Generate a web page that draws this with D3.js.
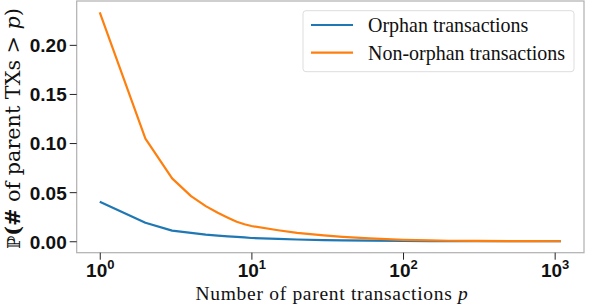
<!DOCTYPE html>
<html><head><meta charset="utf-8">
<script src="https://cdn.jsdelivr.net/npm/d3@7"></script>
<style>
body{margin:0;background:#fff;}
svg{display:block;}
</style></head>
<body><svg id="c" width="598" height="305"></svg>
<script>
const pValues = [1,2,3,4,5,6,7,8,9,10,15,20,30,40,60,100,150,200,300,500,700,1100];
const orphan = [0.0402,0.0189,0.0108,0.0085,0.0068,0.0058,0.0050,0.0044,0.0039,0.0033,0.0025,0.0018,0.0012,0.0009,0.0006,0.0003,0.0002,0.0001,0.00005,0.00002,0.00001,0.000005];
const nonOrphan = [0.233,0.1045,0.064,0.046,0.0358,0.029,0.024,0.0199,0.0173,0.0155,0.0112,0.0085,0.0060,0.0045,0.0029,0.0014,0.0008,0.0005,0.0003,0.00012,0.00006,0.00002];
const seriesNames = ["Orphan transactions","Non-orphan transactions"];
const seriesColors = ["#1f77b4","#ff7f0e"];
const yTicks = [0,0.05,0.10,0.15,0.20];
const xTicks = [1,10,100,1000];

const svg = d3.select("#c");
const L=76.7, R=584, T=1, B=252.7;
const SERIF = "Liberation Serif, serif";
const lx0=Math.log10(d3.min(pValues)), lx1=Math.log10(d3.max(pValues));
const mx=(lx1-lx0)*0.05;
const x = d3.scaleLog().domain([Math.pow(10,lx0-mx),Math.pow(10,lx1+mx)]).range([L,R]);
const ymax = d3.max(nonOrphan), my = ymax*0.05;
const y = d3.scaleLinear().domain([-my, ymax+my]).range([B,T]);

function fit(sel, target){
  let fs = +sel.attr("font-size");
  for(let k=0;k<3;k++){
    const w = sel.node().getComputedTextLength();
    fs = fs*target/w;
    sel.attr("font-size",fs);
  }
}

svg.append("rect").attr("x",L).attr("y",T).attr("width",R-L).attr("height",B-T)
  .attr("fill","none").attr("stroke","#b0b0b0").attr("stroke-width",1.2);

const ya = svg.append("g").attr("transform",`translate(${L},0)`)
  .call(d3.axisLeft(y).tickValues(yTicks).tickFormat(d3.format(".2f")).tickSize(7).tickPadding(3));
ya.select(".domain").remove();
ya.selectAll(".tick line").attr("stroke","#222").attr("stroke-width",1);
ya.selectAll(".tick text").attr("font-family","Liberation Sans, Arial, sans-serif")
  .attr("font-weight","bold").attr("font-size",19).attr("fill","#111").attr("dy","0.36em");

const xa = svg.append("g").attr("transform",`translate(0,${B})`)
  .call(d3.axisBottom(x).tickValues(xTicks).tickFormat(()=>"").tickSize(7).tickPadding(3));
xa.select(".domain").remove();
xa.selectAll(".tick line").attr("stroke","#222").attr("stroke-width",1);
xa.selectAll(".tick text").each(function(d){
  const t=d3.select(this);
  t.attr("font-family","Liberation Sans, Arial, sans-serif").attr("font-weight","bold")
   .attr("fill","#111").attr("font-size",19).attr("dy",0).attr("y",24).attr("text-anchor","middle");
  t.append("tspan").text("10");
  t.append("tspan").attr("font-size",13).attr("dy",-8).text(Math.round(Math.log10(d)));
});

const line = d3.line().x((d,i)=>x(pValues[i])).y(d=>y(d));
[orphan,nonOrphan].forEach((s,i)=>{
  svg.append("path").datum(s).attr("d",line).attr("fill","none")
    .attr("stroke",seriesColors[i]).attr("stroke-width",2.2).attr("stroke-linejoin","round");
});

const xl = svg.append("text").attr("x",332).attr("y",300).attr("text-anchor","middle")
  .attr("font-family",SERIF).attr("font-size",19.5).attr("letter-spacing",0.7).attr("fill","#111");
xl.append("tspan").text("Number of parent transactions ");
xl.append("tspan").attr("font-style","italic").text("p");

const yl = svg.append("text").attr("transform",`translate(20,128.5) rotate(-90)`)
  .attr("text-anchor","middle").attr("font-family","DejaVu Serif, serif").attr("font-size",17).attr("fill","#111");
yl.append("tspan").attr("font-size","0.85em").text("ℙ");
yl.append("tspan").attr("font-weight","bold").text("(#");
yl.append("tspan").text(" of parent TXs > ");
yl.append("tspan").attr("font-style","italic").text("p");
yl.append("tspan").text(")");
fit(yl, 241);

const lg = svg.append("g");
lg.append("rect").attr("x",303).attr("y",10.7).attr("width",271).attr("height",61).attr("rx",3)
  .attr("fill","#fff").attr("fill-opacity",0.8).attr("stroke","#dddddd").attr("stroke-width",1);
seriesNames.forEach((n,i)=>{
  const yy = 25 + i*27.7;
  lg.append("line").attr("x1",311).attr("x2",353).attr("y1",yy).attr("y2",yy)
    .attr("stroke",seriesColors[i]).attr("stroke-width",2.2);
  const t = lg.append("text").attr("x",368).attr("y",yy).attr("dy","0.35em")
    .attr("font-family",SERIF).attr("font-size",19).attr("fill","#111").text(n);
  if(i===1) fit(t,197);
});
const lt = lg.selectAll("text");
const fsL = lt.filter((d,i)=>i===1).attr("font-size");
lt.attr("font-size",fsL);
</script></body></html>
